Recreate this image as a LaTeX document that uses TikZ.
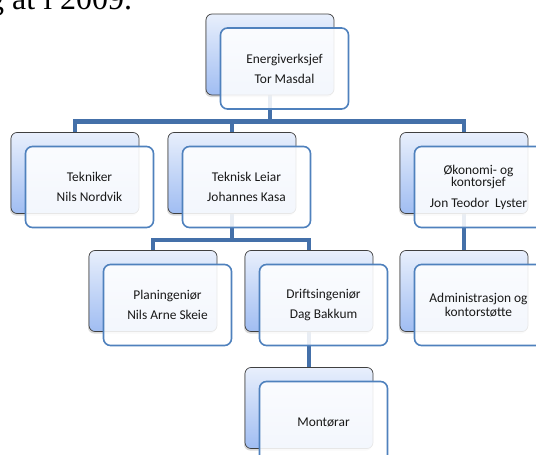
\documentclass[tikz,border=0pt]{standalone}
\usepackage{fontspec}
\setmainfont{Carlito}
\newfontfamily\bodyserif{Liberation Serif}
\usetikzlibrary{backgrounds,shadows}
\definecolor{linkblue}{HTML}{4470A9}
\definecolor{frameblue}{HTML}{4F81BD}
\definecolor{backtop}{HTML}{E8EFFC}
\definecolor{backbottom}{HTML}{A0BDF2}
\newcommand{\orgbox}[3]{%
  \node[backbox] (#1) at #2 {};
  \node[frontbox, xshift=14.5pt, yshift=-14pt] (#1f) at #2 {#3};
}

\begin{document}
\begin{tikzpicture}[x=1pt, y=-1pt,
    backbox/.style={rounded corners=6pt, draw=black!75, line width=0.7pt,
      top color=backtop, bottom color=backbottom, minimum width=128pt,
      minimum height=81pt, inner sep=0pt,
      drop shadow={shadow xshift=-1pt, shadow yshift=-2pt, opacity=0.3}},
    frontbox/.style={rounded corners=7pt, draw=frameblue, line width=1.6pt,
      fill=white, fill opacity=0.88, text opacity=1, text=black!90,
      minimum width=128pt, minimum height=81pt, inner sep=0pt, align=center,
      font=\fontsize{13.4}{12.5}\selectfont},
    link/.style={draw=linkblue, line width=4.5pt, line join=miter}]
  \useasboundingbox (0,0) rectangle (536,455);
  \clip (0,0) rectangle (536,455);

  % Caption line cut at the top
  \node[anchor=base west, inner sep=0pt, font=\bodyserif\fontsize{32}{36}\selectfont] (caption) at (-12,9.5) {g at i 2009.};

  % Boxes
  \orgbox{chief}{(270,54.5)}{Energiverksjef\\[7.5pt]Tor Masdal}
  \orgbox{tekn}{(75,173)}{Tekniker\\[7.5pt]Nils Nordvik}
  \orgbox{leiar}{(232,173)}{Teknisk Leiar\\[7.5pt]Johannes Kasa}
  \orgbox{okon}{(464,173)}{Økonomi- og\\kontorsjef\\[8pt]Jon Teodor\ \ Lyster}
  \orgbox{plan}{(153,291)}{Planingeniør\\[7.5pt]Nils Arne Skeie}
  \orgbox{drift}{(309,291)}{Driftsingeniør\\[7.5pt]Dag Bakkum}
  \orgbox{admin}{(464,291)}{Administrasjon og\\[1.5pt]kontorstøtte}
  \orgbox{mont}{(309,408)}{Montørar}

  % Bars
  \coordinate (bar1) at (0,121.5);
  \coordinate (bar2) at (0,240);

  % Connectors
  \begin{scope}[on background layer]
    \draw[link] (chief.center) -- (chief |- bar1);
    \draw[link] (tekn.north) -- (tekn |- bar1) -- (okon |- bar1) -- (okon.north);
    \draw[link] (leiar.north) -- (leiar |- bar1);
    \draw[link] (leiar.center) -- (leiar |- bar2);
    \draw[link] (plan.north) -- (plan |- bar2) -- (drift |- bar2) -- (drift.north);
    \draw[link] (okon.center) -- (admin.north);
    \draw[link] (drift.center) -- (mont.north);
  \end{scope}
\end{tikzpicture}
\end{document}
